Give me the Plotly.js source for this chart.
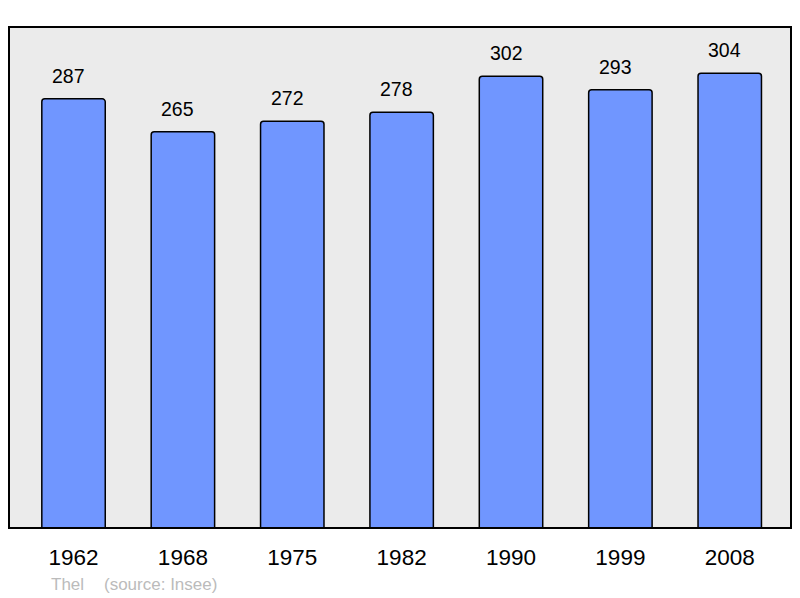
<!DOCTYPE html>
<html>
<head>
<meta charset="utf-8">
<script src="https://cdn.plot.ly/plotly-3.0.1.min.js"></script>
<style>html,body{margin:0;padding:0;background:#fff;}#chart{width:800px;height:598px;}</style>
</head>
<body>
<div id="chart"></div>
<script>
var years = ["1962", "1968", "1975", "1982", "1990", "1999", "2008"];
var population = [287, 265, 272, 278, 302, 293, 304];
var townName = "Thel";
var sourceText = "(source: Insee)";

var trace = {
  type: "bar",
  x: years,
  y: population,
  width: 0.58,
  marker: {color: "#7096ff", line: {color: "#000", width: 1.5}, cornerradius: 3},
  hoverinfo: "skip"
};

var annotations = years.map(function (yr, i) {
  return {
    x: i, y: population[i], xref: "x", yref: "y",
    text: String(population[i]), showarrow: false,
    yanchor: "bottom", yshift: 10, xshift: -5,
    font: {family: "Liberation Sans, Arial, sans-serif", size: 19.5, color: "#000"}
  };
});
annotations.push({
  x: (49 - 9) / 782, y: -0.112, xref: "paper", yref: "paper",
  xanchor: "left", yanchor: "middle", showarrow: false, text: townName,
  font: {family: "Liberation Sans, Arial, sans-serif", size: 17, color: "#bbbbbb"}
});
annotations.push({
  x: (102 - 9) / 782, y: -0.112, xref: "paper", yref: "paper",
  xanchor: "left", yanchor: "middle", showarrow: false, text: sourceText,
  font: {family: "Liberation Sans, Arial, sans-serif", size: 17, color: "#bbbbbb"}
});

var layout = {
  width: 800, height: 598,
  margin: {l: 9, r: 9, t: 27, b: 70, pad: 0},
  paper_bgcolor: "#ffffff",
  plot_bgcolor: "#ebebeb",
  showlegend: false,
  xaxis: {
    type: "category", range: [-0.59, 6.56],
    showgrid: false, zeroline: false, showline: false, ticks: "",
    ticklabelstandoff: 13,
    tickfont: {family: "Liberation Sans, Arial, sans-serif", size: 22.5, color: "#000"},
    fixedrange: true
  },
  yaxis: {
    range: [0, 335], showgrid: false, zeroline: false, showline: false,
    showticklabels: false, ticks: "", fixedrange: true
  },
  shapes: [{
    type: "rect", xref: "paper", yref: "paper", x0: 0, x1: 1, y0: 0, y1: 1,
    line: {color: "#000", width: 2}, fillcolor: "rgba(0,0,0,0)", layer: "above"
  }],
  annotations: annotations
};

Plotly.newPlot("chart", [trace], layout, {displayModeBar: false, staticPlot: true});
</script>
</body>
</html>
